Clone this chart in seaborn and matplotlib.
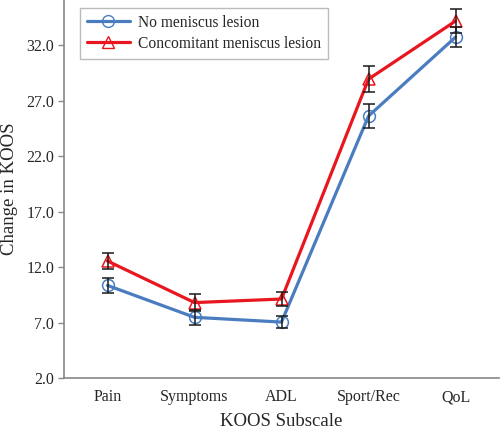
import numpy as np
import pandas as pd
import matplotlib
matplotlib.use('Agg')
import matplotlib.pyplot as plt
import seaborn as sns

# Данные
subscales = ['Pain', 'Symptoms', 'ADL', 'Sport/Rec', 'QoL']
no_lesion = [10.35, 7.47, 7.04, 25.63, 32.75]
no_lesion_err = [0.65, 0.7, 0.55, 1.05, 0.9]
lesion = [12.55, 8.8, 9.12, 28.96, 34.2]
lesion_err = [0.7, 0.75, 0.65, 1.2, 1.05]
groups = ['No meniscus lesion', 'Concomitant meniscus lesion']
yticks = [2.0, 7.0, 12.0, 17.0, 22.0, 27.0, 32.0]

df = pd.DataFrame({
    'Subscale': subscales * 2,
    'Change': no_lesion + lesion,
    'Err': no_lesion_err + lesion_err,
    'Group': [groups[0]] * 5 + [groups[1]] * 5,
})

sns.set_style('white')
plt.rcParams['font.family'] = ['Liberation Serif', 'DejaVu Serif']

colors = {groups[0]: '#4A7CC0', groups[1]: '#E8161E'}
markers = {groups[0]: 'o', groups[1]: '^'}

fig = plt.figure(figsize=(5.0, 4.29), dpi=100)
ax = fig.add_axes([0.128, 0.119, 0.870, 0.881])

sns.lineplot(data=df, x='Subscale', y='Change', hue='Group', style='Group',
             palette=colors, markers=markers, dashes=False, linewidth=2.3,
             markersize=8.5, markeredgewidth=1.1,
             ax=ax, legend=False, sort=False)

# Маркеры без заливки
for line in ax.lines:
    line.set_markerfacecolor('none')
    line.set_markeredgecolor(line.get_color())

# Планки погрешностей
pos = np.arange(len(subscales))
for vals, errs in [(no_lesion, no_lesion_err), (lesion, lesion_err)]:
    ax.errorbar(pos, vals, yerr=errs, fmt='none', ecolor='#1a1a1a',
                elinewidth=1.1, capsize=4, capthick=1.1, zorder=5)

ax.set_xlim(-0.5, 4.5)
ax.set_ylim(2.0, 36.1)
ax.set_yticks(yticks)
ax.set_yticklabels([f'{v:.1f}' for v in yticks])
ax.set_xticks(pos)
ax.set_xticks(pos[:-1] + 0.5, minor=True)
ax.tick_params(axis='x', which='major', length=0, pad=8, labelsize=11.5)
ax.tick_params(axis='x', which='minor', direction='in', length=4, color='#888888', width=1)
ax.tick_params(axis='y', which='major', direction='out', length=4, color='#888888',
               width=1, left=True, labelsize=11.5, pad=3)

for s in ['top', 'right']:
    ax.spines[s].set_visible(False)
for s in ['left', 'bottom']:
    ax.spines[s].set_color('#888888')
    ax.spines[s].set_linewidth(1.2)

ax.set_xlabel('KOOS Subscale', fontsize=13.5, labelpad=6)
ax.set_ylabel('Change in KOOS', fontsize=13.5, labelpad=6)

handles = [plt.Line2D([], [], color=colors[g], marker=markers[g], markersize=8.5,
                      markerfacecolor='none', linewidth=2.3) for g in groups]
leg = ax.legend(handles, groups, loc='upper left', bbox_to_anchor=(0.037, 0.979),
                borderaxespad=0, frameon=True, fancybox=False, edgecolor='#aaaaaa',
                fontsize=11.2, handlelength=2.75, borderpad=0.45, labelspacing=0.3,
                handletextpad=0.5)
leg.get_frame().set_linewidth(1.0)

fig.savefig('out.png', dpi=100)
